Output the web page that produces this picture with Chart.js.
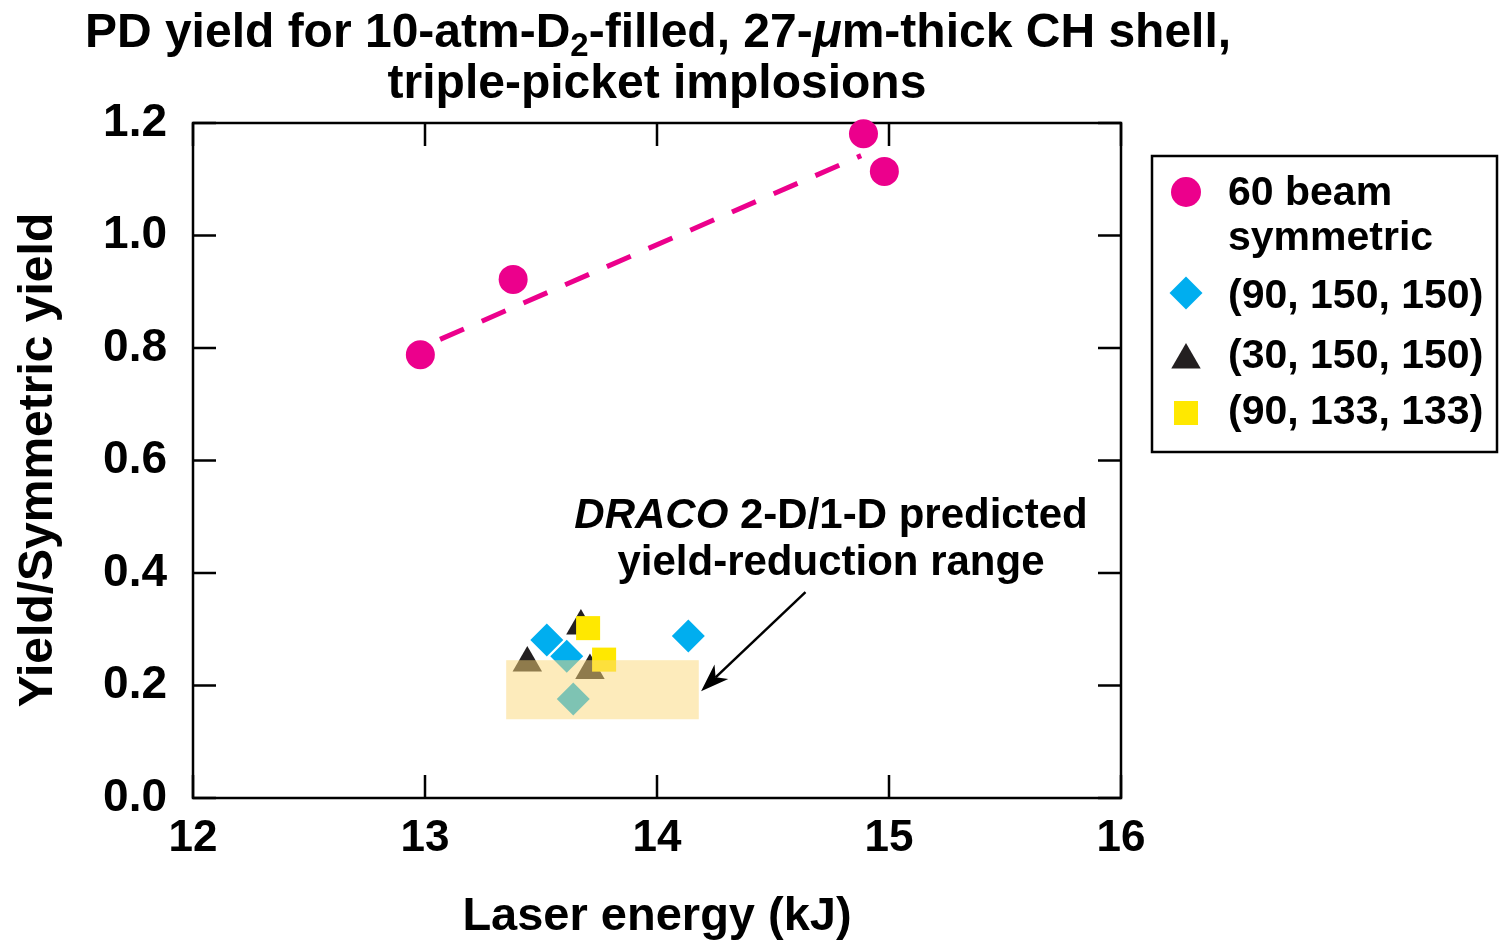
<!DOCTYPE html>
<html>
<head>
<meta charset="utf-8">
<title>PD yield, triple-picket implosions</title>
<script src="https://cdn.jsdelivr.net/npm/chart.js@4.4.1/dist/chart.umd.min.js"></script>
<style>
  html, body { margin: 0; padding: 0; background: #fff; }
  #wrap { width: 1500px; height: 940px; }
</style>
</head>
<body>
<div id="wrap"><canvas id="chart" width="1500" height="940"></canvas></div>
<script>
// ---- axis ticks ----
const xTickValues = [12, 13, 14, 15, 16];
const yTickValues = [0.0, 0.2, 0.4, 0.6, 0.8, 1.0, 1.2];

// ---- measured yields (laser energy in kJ, yield / symmetric yield) ----
const symEnergy  = [12.98, 13.38, 14.89, 14.98];
const symYield   = [0.788, 0.922, 1.181, 1.114];

// dashed trend through the symmetric shots
const trendEnergy = [12.98, 14.88];
const trendYield  = [0.800, 1.142];

const b90x150Energy = [13.525, 13.611, 13.639, 14.135];
const b90x150Yield  = [0.281, 0.252, 0.176, 0.288];

const b30x150Energy = [13.441, 13.672, 13.711];
const b30x150Yield  = [0.240, 0.306, 0.2265];

const b90x133Energy = [13.703, 13.772];
const b90x133Yield  = [0.302, 0.246];

// DRACO 2-D/1-D predicted band
const dracoEnergy = [13.35, 14.18];
const dracoYield  = [0.140, 0.245];

// annotation arrow: tail -> head
const arrowEnergy = [14.64, 14.19];
const arrowYield  = [0.366, 0.190];

const seriesNames = [
  ['60 beam', 'symmetric'],
  ['(90, 150, 150)'],
  ['(30, 150, 150)'],
  ['(90, 133, 133)']
];

const MAGENTA = '#ec008c';
const CYAN    = '#00aeef';
const BLACK   = '#231f20';
const YELLOW  = '#ffe800';
const FAMILY  = '"Liberation Sans", Arial, Helvetica, sans-serif';

const pts = (xs, ys) => xs.map((v, i) => ({ x: v, y: ys[i] }));

function marker(ctx, style, r, x, y, color) {
  ctx.save();
  ctx.fillStyle = color;
  if (Chart.helpers && Chart.helpers.drawPoint) {
    Chart.helpers.drawPoint(ctx, { pointStyle: style, radius: r, rotation: 0, borderWidth: 0 }, x, y);
  } else {
    ctx.beginPath();
    if (style === 'circle') ctx.arc(x, y, r, 0, Math.PI * 2);
    else if (style === 'rectRot') { ctx.moveTo(x - r, y); ctx.lineTo(x, y - r); ctx.lineTo(x + r, y); ctx.lineTo(x, y + r); }
    else if (style === 'triangle') { ctx.moveTo(x, y - r); ctx.lineTo(x + r * 0.866, y + r / 2); ctx.lineTo(x - r * 0.866, y + r / 2); }
    else { const s = r * Math.SQRT1_2; ctx.rect(x - s, y - s, 2 * s, 2 * s); }
    ctx.closePath();
    ctx.fill();
  }
  ctx.restore();
}

// draws a run of differently styled text pieces centred on cx
function richText(ctx, pieces, cx, baseline) {
  let total = 0;
  pieces.forEach(p => { ctx.font = p.font; p.w = ctx.measureText(p.text).width; total += p.w; });
  let xPos = cx - total / 2;
  ctx.textAlign = 'left';
  ctx.textBaseline = 'alphabetic';
  pieces.forEach(p => {
    ctx.font = p.font;
    ctx.fillText(p.text, xPos, baseline + (p.dy || 0));
    xPos += p.w;
  });
}

const decorations = {
  id: 'decorations',
  beforeDatasetsDraw(chart) {
    const { ctx, chartArea: a, scales: { x, y } } = chart;
    ctx.save();
    ctx.strokeStyle = '#000';
    ctx.lineWidth = 2.5;
    ctx.strokeRect(a.left, a.top, a.right - a.left, a.bottom - a.top);
    const L = 23;
    ctx.beginPath();
    xTickValues.forEach(v => {
      const px = x.getPixelForValue(v);
      ctx.moveTo(px, a.bottom); ctx.lineTo(px, a.bottom - L);
      ctx.moveTo(px, a.top);    ctx.lineTo(px, a.top + L);
    });
    yTickValues.forEach(v => {
      const py = y.getPixelForValue(v);
      ctx.moveTo(a.left, py);  ctx.lineTo(a.left + L, py);
      ctx.moveTo(a.right, py); ctx.lineTo(a.right - L, py);
    });
    ctx.stroke();
    ctx.restore();
  },
  afterDatasetsDraw(chart) {
    const { ctx, scales: { x, y } } = chart;
    ctx.save();
    // predicted band, translucent over the markers
    const x0 = x.getPixelForValue(dracoEnergy[0]), x1 = x.getPixelForValue(dracoEnergy[1]);
    const y0 = y.getPixelForValue(dracoYield[0]),  y1 = y.getPixelForValue(dracoYield[1]);
    ctx.fillStyle = 'rgba(251, 215, 120, 0.5)';
    ctx.fillRect(x0, y1, x1 - x0, y0 - y1);

    // arrow
    const tx = x.getPixelForValue(arrowEnergy[0]), ty = y.getPixelForValue(arrowYield[0]);
    const hx = x.getPixelForValue(arrowEnergy[1]), hy = y.getPixelForValue(arrowYield[1]);
    const ang = Math.atan2(hy - ty, hx - tx);
    const headLen = 28, headHalf = 10, notch = 20;
    ctx.strokeStyle = '#000';
    ctx.lineWidth = 2.5;
    ctx.beginPath();
    ctx.moveTo(tx, ty);
    ctx.lineTo(hx - Math.cos(ang) * notch, hy - Math.sin(ang) * notch);
    ctx.stroke();
    ctx.fillStyle = '#000';
    ctx.beginPath();
    ctx.moveTo(hx, hy);
    ctx.lineTo(hx - Math.cos(ang) * headLen - Math.sin(ang) * headHalf, hy - Math.sin(ang) * headLen + Math.cos(ang) * headHalf);
    ctx.lineTo(hx - Math.cos(ang) * notch, hy - Math.sin(ang) * notch);
    ctx.lineTo(hx - Math.cos(ang) * headLen + Math.sin(ang) * headHalf, hy - Math.sin(ang) * headLen - Math.cos(ang) * headHalf);
    ctx.closePath();
    ctx.fill();

    // band label
    ctx.fillStyle = '#000';
    richText(ctx, [
      { text: 'DRACO', font: 'italic bold 42px ' + FAMILY },
      { text: ' 2-D/1-D predicted', font: 'bold 42px ' + FAMILY }
    ], 831, 528);
    richText(ctx, [{ text: 'yield-reduction range', font: 'bold 42px ' + FAMILY }], 831, 575);
    ctx.restore();
  },
  afterDraw(chart) {
    const { ctx } = chart;
    ctx.save();
    ctx.fillStyle = '#000';
    // title
    const big = 'bold 48px ' + FAMILY;
    richText(ctx, [
      { text: 'PD yield for 10-atm-D', font: big },
      { text: '2', font: 'bold 33px ' + FAMILY, dy: 9 },
      { text: '-filled, 27-', font: big },
      { text: '\u03bc', font: 'italic bold 48px ' + FAMILY },
      { text: 'm-thick CH shell,', font: big }
    ], 658, 47);
    richText(ctx, [{ text: 'triple-picket implosions', font: big }], 657, 98);

    // axis titles
    richText(ctx, [{ text: 'Laser energy (kJ)', font: 'bold 47px ' + FAMILY }], 657, 930);
    ctx.save();
    ctx.translate(52, 460);
    ctx.rotate(-Math.PI / 2);
    richText(ctx, [{ text: 'Yield/Symmetric yield', font: 'bold 48px ' + FAMILY }], 0, 0);
    ctx.restore();

    // legend
    ctx.strokeStyle = '#000';
    ctx.lineWidth = 2.5;
    ctx.strokeRect(1152, 156, 345, 296);
    marker(ctx, 'circle',   15,   1186, 192, MAGENTA);
    marker(ctx, 'rectRot',  16.5, 1186, 293, CYAN);
    marker(ctx, 'triangle', 17,   1186, 360, BLACK);
    marker(ctx, 'rect',     17,   1186, 413, YELLOW);
    ctx.fillStyle = '#000';
    ctx.font = 'bold 41px ' + FAMILY;
    ctx.textAlign = 'left';
    ctx.textBaseline = 'alphabetic';
    const lx = 1228;
    ctx.fillText(seriesNames[0][0], lx, 205);
    ctx.fillText(seriesNames[0][1], lx, 250);
    ctx.fillText(seriesNames[1][0], lx, 308);
    ctx.fillText(seriesNames[2][0], lx, 368);
    ctx.fillText(seriesNames[3][0], lx, 424);
    ctx.restore();
  }
};

new Chart(document.getElementById('chart'), {
  type: 'scatter',
  data: {
    datasets: [
      { label: seriesNames[3].join(' '), data: pts(b90x133Energy, b90x133Yield), order: 0,
        pointStyle: 'rect', pointRadius: 17, backgroundColor: YELLOW, borderWidth: 0, clip: false },
      { label: seriesNames[2].join(' '), data: pts(b30x150Energy, b30x150Yield), order: 1,
        pointStyle: 'triangle', pointRadius: 17, backgroundColor: BLACK, borderWidth: 0, clip: false },
      { label: seriesNames[1].join(' '), data: pts(b90x150Energy, b90x150Yield), order: 2,
        pointStyle: 'rectRot', pointRadius: 16.5, backgroundColor: CYAN, borderWidth: 0, clip: false },
      { label: seriesNames[0].join(' '), data: pts(symEnergy, symYield), order: 3,
        pointStyle: 'circle', pointRadius: 14.5, backgroundColor: MAGENTA, borderWidth: 0, clip: false },
      { label: 'trend', type: 'line', data: pts(trendEnergy, trendYield), order: 4,
        showLine: true, pointRadius: 0, borderColor: MAGENTA, borderWidth: 5,
        borderDash: [26, 19.5], borderDashOffset: 24, borderCapStyle: 'butt', fill: false, clip: false }
    ]
  },
  options: {
    responsive: false,
    animation: false,
    devicePixelRatio: 1,
    layout: { padding: { top: 123, right: 379, left: 0, bottom: 0 } },
    plugins: { legend: { display: false }, title: { display: false }, tooltip: { enabled: false } },
    scales: {
      x: {
        type: 'linear', position: 'bottom', min: 12, max: 16,
        afterBuildTicks: s => { s.ticks = xTickValues.map(v => ({ value: v })); },
        afterFit: s => { s.height = 142; },
        grid: { display: false, drawTicks: false },
        border: { display: false },
        ticks: { color: '#000', padding: 14, maxRotation: 0,
                 font: { family: FAMILY, size: 44, weight: 'bold' } }
      },
      y: {
        type: 'linear', position: 'left', min: 0, max: 1.2,
        afterBuildTicks: s => { s.ticks = yTickValues.map(v => ({ value: v })); },
        afterFit: s => { s.width = 193; },
        grid: { display: false, drawTicks: false },
        border: { display: false },
        ticks: { color: '#000', padding: 26, callback: v => Number(v).toFixed(1),
                 font: { family: FAMILY, size: 46, weight: 'bold' } }
      }
    }
  },
  plugins: [decorations]
});
</script>
</body>
</html>
